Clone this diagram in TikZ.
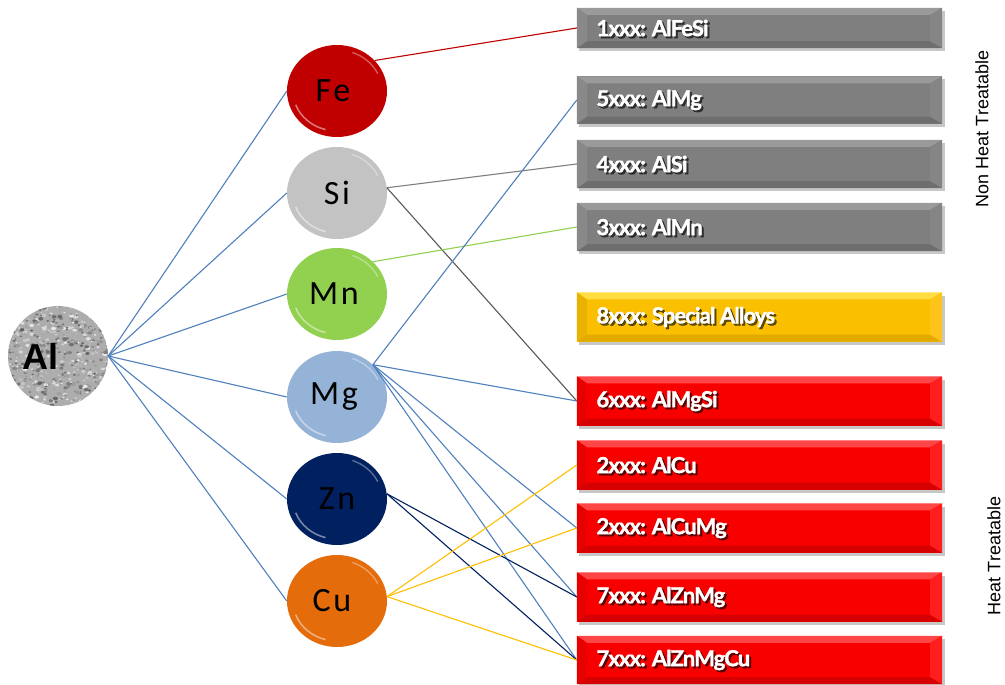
\documentclass[tikz,border=0pt]{standalone}
\usepackage{fontspec}
\setmainfont{Liberation Sans}
\newfontfamily\boxfont[LetterSpace=-4, BoldFeatures={FakeBold=1.6}]{Lato}
\newfontfamily\elemfont[LetterSpace=8]{Carlito}
\usetikzlibrary{shapes.geometric}
\definecolor{cFe}{HTML}{C00000}
\definecolor{cSi}{HTML}{C3C3C3}
\definecolor{cMn}{HTML}{92D050}
\definecolor{cMg}{HTML}{95B3D7}
\definecolor{cZn}{HTML}{002060}
\definecolor{cCu}{HTML}{E46C0A}
\definecolor{lBlue}{HTML}{4F81BD}
\definecolor{lGray}{HTML}{7F7F7F}
\definecolor{lDGray}{HTML}{595959}
\definecolor{lGold}{HTML}{FFC000}
% box colours
\definecolor{gmain}{HTML}{7F7F7F}
\definecolor{gtop}{HTML}{9A9A9A}
\definecolor{gbot}{HTML}{6E6E6E}
\definecolor{gleft}{HTML}{898989}
\definecolor{gright}{HTML}{858585}
\definecolor{ymain}{HTML}{FAC000}
\definecolor{ytop}{HTML}{FFDD40}
\definecolor{ybot}{HTML}{E2AA00}
\definecolor{yleft}{HTML}{EAB200}
\definecolor{yright}{HTML}{FFC41A}
\definecolor{rmain}{HTML}{F80000}
\definecolor{rtop}{HTML}{FF4646}
\definecolor{rbot}{HTML}{D60000}
\definecolor{rleft}{HTML}{E60000}
\definecolor{rright}{HTML}{FF1E1E}
\newcommand\alloybox[5]{%
  \fill[black,opacity=0.22] (579,#2-#3/2+3) rectangle (945,#2+#3/2+3);
  \node[minimum width=365pt, minimum height=#3pt, inner sep=0pt, fill=#4main] (#1) at (759.5,#2) {};
  \fill[#4top] (#1.north west) -- (#1.north east) -- ([xshift=-12pt,yshift=-7pt]#1.north east) -- ([xshift=10pt,yshift=-7pt]#1.north west) -- cycle;
  \fill[#4bot] (#1.south west) -- (#1.south east) -- ([xshift=-12pt,yshift=7pt]#1.south east) -- ([xshift=10pt,yshift=7pt]#1.south west) -- cycle;
  \fill[#4left] (#1.north west) -- ([xshift=10pt,yshift=-7pt]#1.north west) -- ([xshift=10pt,yshift=7pt]#1.south west) -- (#1.south west) -- cycle;
  \fill[#4right] (#1.north east) -- ([xshift=-12pt,yshift=-7pt]#1.north east) -- ([xshift=-12pt,yshift=7pt]#1.south east) -- (#1.south east) -- cycle;
  \node[anchor=west, text=black, opacity=0.6, inner sep=0pt, font=\boxfont\bfseries\fontsize{22}{24}\selectfont] at ([xshift=21.5pt,yshift=-2pt]#1.west) {#5};
  \node[anchor=west, text=white, inner sep=0pt, font=\boxfont\bfseries\fontsize{22}{24}\selectfont] at ([xshift=19.5pt]#1.west) {#5};
}
\begin{document}
\begin{tikzpicture}[x=1pt,y=-1pt,
  elem/.style={ellipse, minimum width=100pt, minimum height=92pt, inner sep=0pt,
    font=\elemfont\fontsize{34}{36}\selectfont, text=black},
  conn/.style={line width=1.1pt},
  side/.style={rotate=90, font=\fontsize{18}{20}\selectfont, text=black}]
\useasboundingbox (0,0) rectangle (1005,685);
\fill[white] (0,0) rectangle (1005,685);

% Al circle with texture
\begin{scope}
  \clip (58,356) circle (50pt);
  \fill[black!32] (58,356) circle (50pt);
  \pgfmathsetseed{11}
  \foreach \i in {1,...,800}{
    \pgfmathsetmacro\xx{6+104*rnd}
    \pgfmathsetmacro\yy{304+104*rnd}
    \pgfmathtruncatemacro\gg{8+55*rnd}
    \pgfmathsetmacro\rr{0.8+1.8*rnd}
    \fill[black!\gg] (\xx,\yy) ellipse (\rr pt and 0.7*\rr pt);
  }
\end{scope}
\node[circle, minimum size=100pt, inner sep=0pt] (Al) at (58,356) {};
\node[font=\bfseries\fontsize{36}{40}\selectfont, text=black] (Altext) at (41,356) {Al};

% element circles
\node[elem, fill=cFe] (Fe) at (337,91) {Fe\hspace*{8pt}};
\node[elem, fill=cSi] (Si) at (337,193) {Si};
\node[elem, fill=cMn] (Mn) at (337,294) {Mn\hspace*{6pt}};
\node[elem, fill=cMg] (Mg) at (337,397) {Mg\hspace*{6pt}};
\node[elem, fill=cZn] (Zn) at (337,499) {Zn};
\node[elem, fill=cCu] (Cu) at (337,601) {Cu\hspace*{10pt}};
\foreach \n in {Fe,Si,Mn,Mg,Zn,Cu}{
  \draw[white, opacity=0.45, line width=1.6pt] (\n.center) ++(200:44pt and 40pt)
    arc[start angle=200, end angle=255, x radius=44pt, y radius=40pt];
  \draw[white, opacity=0.35, line width=1.4pt] (\n.center) ++(25:45pt and 41pt)
    arc[start angle=25, end angle=70, x radius=45pt, y radius=41pt];
}

% alloy boxes
\alloybox{b1}{28}{40}{g}{1xxx: AlFeSi}
\alloybox{b5}{100}{47}{g}{5xxx: AlMg}
\alloybox{b4}{164}{48}{g}{4xxx: AlSi}
\alloybox{b3}{227}{48}{g}{3xxx: AlMn}
\alloybox{b8}{317}{49}{y}{8xxx: Special Alloys}
\alloybox{b6}{401}{49}{r}{6xxx: AlMgSi}
\alloybox{b2a}{465}{49}{r}{2xxx: AlCu}
\alloybox{b2b}{528}{49}{r}{2xxx: AlCuMg}
\alloybox{b7a}{597}{49}{r}{7xxx: AlZnMg}
\alloybox{b7b}{660}{48}{r}{7xxx: AlZnMgCu}

% Al to elements
\foreach \n in {Fe,Si,Mn,Mg,Zn,Cu}{
  \draw[conn, lBlue] (Al.east) -- (\n.west);
}
% elements to alloys
\draw[conn, cFe] (Fe.39) -- (b1.west);
\draw[conn, lGray] (Si.6) -- (b4.west);
\draw[conn, lDGray] (Si.6) -- (b6.west);
\draw[conn, cMn] (Mn.42) -- (b3.west);
\foreach \b in {b5,b6,b2b,b7a,b7b}{
  \draw[conn, lBlue] (Mg.42) -- (\b.west);
}
\draw[conn, cZn] (Zn.6) -- (b7a.west);
\draw[conn, cZn] (Zn.6) -- (b7b.west);
\foreach \b in {b2a,b2b,b7b}{
  \draw[conn, lGold] (Cu.5) -- (\b.west);
}

% side labels
\node[side] (nht) at (982,129) {Non Heat Treatable};
\node[side] (ht) at (994,556) {Heat Treatable};
\end{tikzpicture}
\end{document}
